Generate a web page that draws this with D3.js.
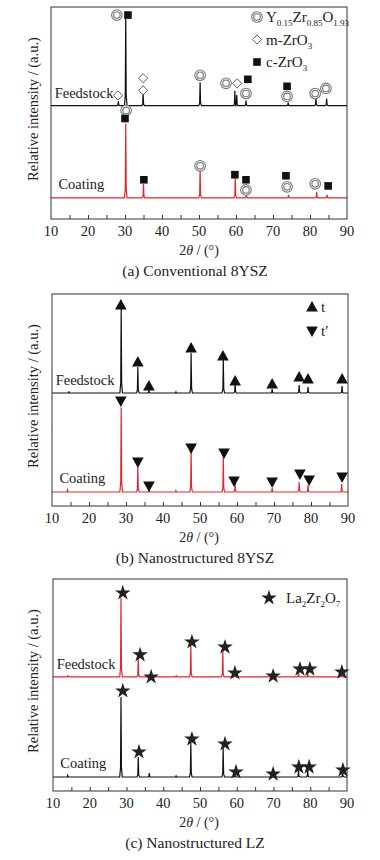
<!DOCTYPE html>
<html>
<head>
<meta charset="utf-8">
<script src="https://cdn.jsdelivr.net/npm/d3@7"></script>
<style>
  body { margin: 0; background: #fff; }
  svg text { font-family: "Liberation Serif", "DejaVu Serif", serif; fill: #222; }
</style>
</head>
<body>
<svg id="chart" width="380" height="860"></svg>
<script>
// x axis ticks (2theta, degrees)
var xTicks = [10, 20, 30, 40, 50, 60, 70, 80, 90];

// peaks: [2theta, height above baseline (a.u.)]
var aFeedPeaks = [[28.2, 2], [30.2, 43], [34.9, 5.7], [50.3, 11], [59.7, 7], [60.2, 5], [62.7, 2.4], [74.1, 1.4], [81.6, 3.8], [84.5, 3.3]];
var aCoatPeaks = [[30.2, 35], [35.0, 6.6], [50.3, 13.3], [59.8, 9.5], [62.8, 1.4], [74.2, 1.4], [81.8, 2.8], [84.6, 1.4]];
var bFeedPeaks = [[14.6, 0.5], [28.7, 40], [33.2, 12.3], [36.2, 1.4], [43.5, 0.5], [47.6, 18.9], [56.3, 15.6], [59.5, 4.7], [69.5, 1.9], [76.8, 3.8], [79.2, 2.8], [88.4, 3.3]];
var bCoatPeaks = [[14.2, 0.9], [28.7, 40], [33.2, 11.8], [36.2, 1.4], [43.5, 0.7], [47.6, 18.9], [56.3, 16.5], [59.5, 3.8], [69.5, 1.9], [76.8, 4.7], [79.2, 3.3], [88.3, 3.8]];
var cFeedPeaks = [[14.0, 0.5], [28.5, 37.3], [33.2, 9], [36.1, 0.5], [43.5, 0.5], [47.5, 15.1], [56.2, 12.3], [59.5, 1.4], [70.0, 0.5], [76.8, 2.4], [79.3, 2.4], [88.5, 2.4]];
var cCoatPeaks = [[14.0, 0.8], [28.5, 37.7], [33.2, 9.4], [36.2, 1.9], [43.5, 0.5], [47.5, 16], [56.3, 13.7], [59.5, 1.4], [70.0, 0.5], [76.8, 3.3], [79.3, 3.3], [88.8, 2.8]];

// baselines (a.u.): [feedstock, coating]
var aBase = [53.5, 10];
var bBase = [53.3, 6.6];
var cBase = [53.8, 6.6];

// phase markers: [2theta, intensity (a.u.), symbol]
var aFeedMarks = [[27.8, 96.2, "circle"], [30.8, 96.2, "square"], [28.1, 58.3, "diamond"], [34.9, 66.4, "diamond"], [34.9, 60.7, "diamond"],
  [50.3, 67.8, "circle"], [57.3, 64, "circle"], [60.3, 64, "diamond"], [63.2, 65.9, "square"], [62.7, 59.2, "circle"],
  [73.8, 62.6, "square"], [73.8, 57.8, "circle"], [81.4, 59.2, "circle"], [84.3, 61.6, "circle"]];
var aCoatMarks = [[30.3, 51.2, "circle"], [30.0, 47.4, "square"], [35.1, 18.5, "square"], [50.3, 25.1, "circle"], [59.7, 20.9, "square"],
  [62.7, 18.5, "square"], [62.7, 13.7, "circle"], [73.5, 20.4, "square"], [73.8, 15.2, "circle"], [81.4, 16.6, "circle"], [84.9, 15.6, "square"]];
var bFeedMarks = [[28.6, 94.8, "up"], [33.2, 67.9, "up"], [36.2, 56.6, "up"], [47.6, 74.5, "up"], [56.2, 70.8, "up"],
  [59.5, 59, "up"], [69.5, 57.5, "up"], [76.8, 60.8, "up"], [79.2, 59.9, "up"], [88.4, 59.9, "up"]];
var bCoatMarks = [[28.6, 49.5, "down"], [33.2, 20.8, "down"], [36.2, 9.4, "down"], [47.6, 27.4, "down"], [56.5, 25, "down"],
  [59.2, 11.8, "down"], [69.5, 11.3, "down"], [77.0, 15.1, "down"], [79.5, 12.3, "down"], [88.4, 13.7, "down"]];
var cFeedMarks = [[29.0, 93.4, "star"], [33.7, 64.2, "star"], [36.7, 53.8, "star"], [47.8, 70.3, "star"], [56.8, 67.9, "star"],
  [59.5, 55.7, "star"], [69.9, 54.2, "star"], [77.2, 57.5, "star"], [79.9, 57.5, "star"], [88.6, 56.1, "star"]];
var cCoatMarks = [[29.0, 47.2, "star"], [33.4, 18.4, "star"], [47.8, 24.5, "star"], [56.8, 22.2, "star"], [59.8, 9, "star"],
  [69.9, 8, "star"], [76.9, 11.3, "star"], [79.7, 11.3, "star"], [88.9, 9.9, "star"]];

// legends: [symbol, text pieces ([text, "sub" or ""])]
var aLegend = [["circle", [["Y", ""], ["0.15", "sub"], ["Zr", ""], ["0.85", "sub"], ["O", ""], ["1.93", "sub"]]],
               ["diamond", [["m-ZrO", ""], ["3", "sub"]]],
               ["square", [["c-ZrO", ""], ["3", "sub"]]]];
var bLegend = [["up", [["t", ""]]], ["down", [["t\u2032", ""]]]];
var cLegend = [["star", [["La", ""], ["2", "sub"], ["Zr", ""], ["2", "sub"], ["O", ""], ["7", "sub"]]]];

var BLACK = "#111", RED = "#e3262c";

var panels = [
  { top: 7, left: 51, right: 347, caption: "(a) Conventional 8YSZ", feed: aFeedPeaks, coat: aCoatPeaks, base: aBase,
    feedColor: BLACK, coatColor: RED, marks: aFeedMarks.concat(aCoatMarks), legend: aLegend, legX: 257, legY: 17, legStep: 22.5 },
  { top: 294, left: 52, right: 348, caption: "(b) Nanostructured 8YSZ", feed: bFeedPeaks, coat: bCoatPeaks, base: bBase,
    feedColor: BLACK, coatColor: RED, marks: bFeedMarks.concat(bCoatMarks), legend: bLegend, legX: 312, legY: 307, legStep: 24 },
  { top: 579, left: 53, right: 347, caption: "(c) Nanostructured LZ", feed: cFeedPeaks, coat: cCoatPeaks, base: cBase,
    feedColor: RED, coatColor: BLACK, marks: cFeedMarks.concat(cCoatMarks), legend: cLegend, legX: 269, legY: 598, legStep: 24 }
];

var svg = d3.select("#chart");
var H = 212;

function peakPoints(peaks, base) {
  var pts = [[10, base]];
  var w = 0.35;
  peaks.forEach(function (p) {
    pts.push([p[0] - w, base]);
    pts.push([p[0] - w * 0.35, base + p[1] * 0.12]);
    pts.push([p[0], base + p[1]]);
    pts.push([p[0] + w * 0.35, base + p[1] * 0.12]);
    pts.push([p[0] + w, base]);
  });
  pts.push([90, base]);
  return pts;
}

function drawSymbol(g, type, x, y) {
  if (type === "circle") {
    g.append("circle").attr("cx", x).attr("cy", y).attr("r", 5.3)
      .attr("fill", "#fff").attr("stroke", "#777").attr("stroke-width", 1.1);
    g.append("circle").attr("cx", x).attr("cy", y).attr("r", 3.3)
      .attr("fill", "none").attr("stroke", "#777").attr("stroke-width", 1.1);
  } else if (type === "square") {
    g.append("rect").attr("x", x - 3.8).attr("y", y - 3.8).attr("width", 7.6).attr("height", 7.6).attr("fill", BLACK);
  } else if (type === "diamond") {
    g.append("path").attr("d", "M" + x + "," + (y - 4.6) + "L" + (x + 4.6) + "," + y + "L" + x + "," + (y + 4.6) + "L" + (x - 4.6) + "," + y + "Z")
      .attr("fill", "#fff").attr("stroke", "#333").attr("stroke-width", 0.8);
  } else if (type === "up") {
    g.append("path").attr("d", "M" + x + "," + (y - 6) + "L" + (x + 5.8) + "," + (y + 4.5) + "L" + (x - 5.8) + "," + (y + 4.5) + "Z").attr("fill", BLACK);
  } else if (type === "down") {
    g.append("path").attr("d", "M" + x + "," + (y + 6) + "L" + (x + 5.8) + "," + (y - 4.5) + "L" + (x - 5.8) + "," + (y - 4.5) + "Z").attr("fill", BLACK);
  } else if (type === "star") {
    g.append("path").attr("d", d3.symbol().type(d3.symbolStar).size(75)())
      .attr("transform", "translate(" + x + "," + y + ")").attr("fill", "#222");
  }
}

panels.forEach(function (p) {
  var bottom = p.top + H;
  var x = d3.scaleLinear().domain([10, 90]).range([p.left, p.right]);
  var y = d3.scaleLinear().domain([0, 100]).range([bottom, p.top]);
  var g = svg.append("g");

  var line = d3.line().x(function (d) { return x(d[0]); }).y(function (d) { return y(d[1]); });

  g.append("path").attr("d", line(peakPoints(p.feed, p.base[0])))
    .attr("fill", "none").attr("stroke", p.feedColor).attr("stroke-width", 1.2);
  g.append("path").attr("d", line(peakPoints(p.coat, p.base[1])))
    .attr("fill", "none").attr("stroke", p.coatColor).attr("stroke-width", 1.2);

  // frame
  g.append("rect").attr("x", p.left).attr("y", p.top).attr("width", p.right - p.left).attr("height", H)
    .attr("fill", "none").attr("stroke", "#333").attr("stroke-width", 1);

  // x axis with inward ticks every 5 degrees
  var axis = d3.axisBottom(x).tickValues(d3.range(15, 90, 5)).tickSize(-4).tickFormat("");
  var ax = g.append("g").attr("transform", "translate(0," + bottom + ")").call(axis);
  ax.select(".domain").remove();
  ax.selectAll("line").attr("stroke", "#333");
  g.selectAll(null).data(xTicks).enter().append("text")
    .attr("x", function (d) { return x(d); }).attr("y", bottom + 17)
    .attr("text-anchor", "middle").attr("font-size", 14.5).text(function (d) { return d; });

  var xl = g.append("text").attr("x", 199).attr("y", bottom + 36).attr("text-anchor", "middle").attr("font-size", 14);
  xl.append("tspan").text("2");
  xl.append("tspan").attr("font-style", "italic").text("\u03b8");
  xl.append("tspan").text(" / (\u00b0)");

  g.append("text").attr("x", 195).attr("y", bottom + 57).attr("text-anchor", "middle").attr("font-size", 15.5).text(p.caption);

  g.append("text").attr("transform", "translate(38," + (p.top + H / 2 - 4) + ") rotate(-90)")
    .attr("text-anchor", "middle").attr("font-size", 14.5).text("Relative intensity / (a.u.)");

  g.append("text").attr("x", x(11)).attr("y", y(p.base[0]) - 8).attr("font-size", 14.5).text("Feedstock");
  g.append("text").attr("x", x(12)).attr("y", y(p.base[1]) - 9).attr("font-size", 14.5).text("Coating");

  p.marks.forEach(function (m) { drawSymbol(g, m[2], x(m[0]), y(m[1])); });

  p.legend.forEach(function (l, i) {
    var ly = p.legY + i * p.legStep;
    drawSymbol(g, l[0], p.legX, ly);
    var t = g.append("text").attr("x", p.legX + (l[0] === "star" ? 17 : 9)).attr("y", ly + 5).attr("font-size", 15);
    var low = false;
    l[1].forEach(function (s) {
      var sub = s[1] === "sub";
      var dy = sub === low ? 0 : (sub ? 4 : -4);
      low = sub;
      t.append("tspan").attr("dy", dy).attr("font-size", sub ? 9 : 15).text(s[0]);
    });
  });
});
</script>
</body>
</html>
